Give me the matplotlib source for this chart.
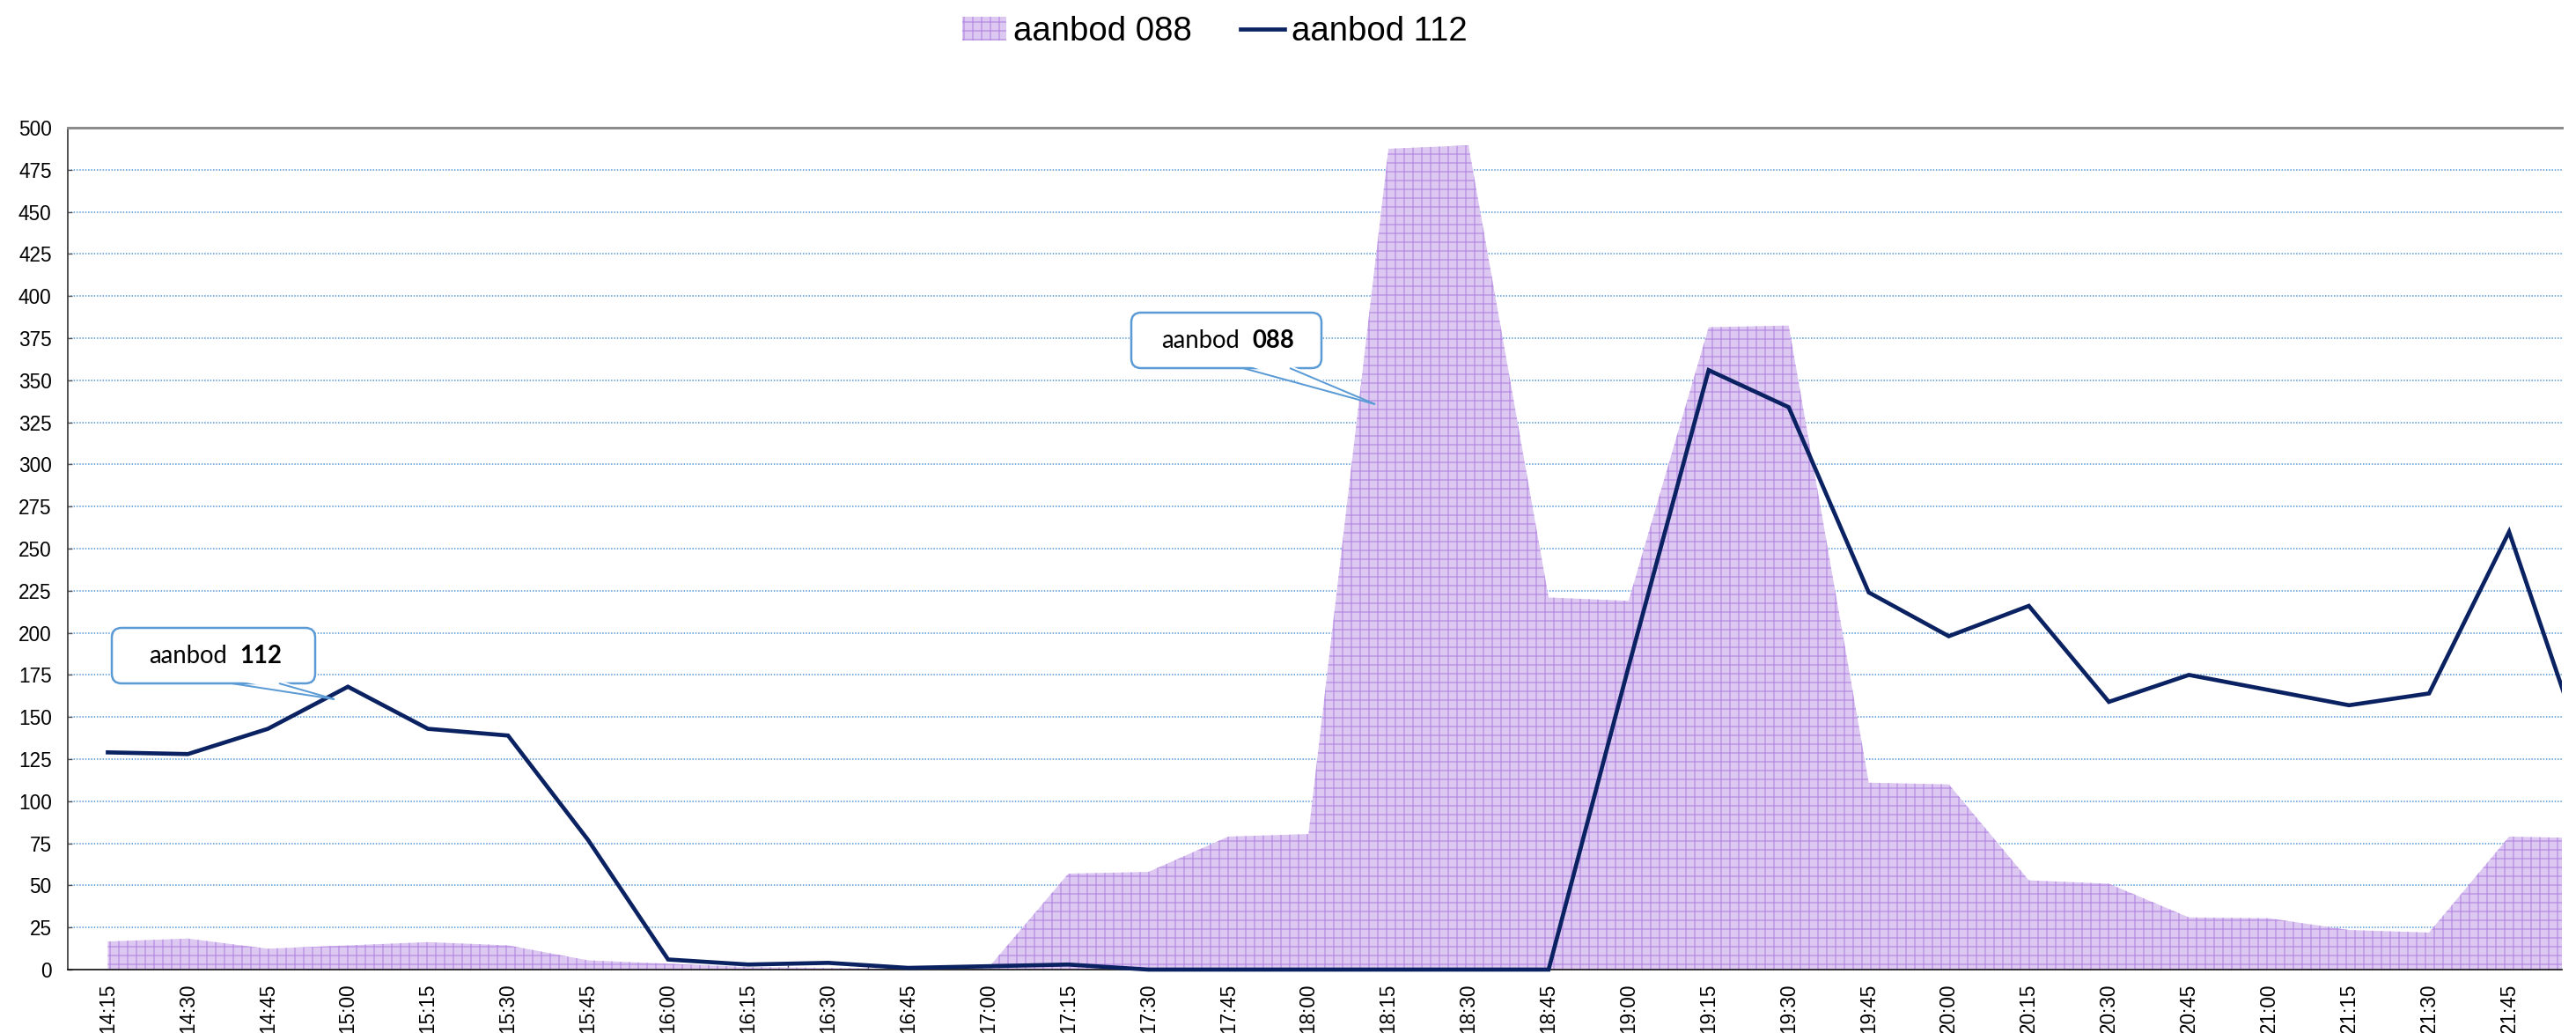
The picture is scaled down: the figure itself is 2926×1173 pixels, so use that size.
import numpy as np
import matplotlib
matplotlib.use("Agg")
import matplotlib.pyplot as plt
from matplotlib.patches import FancyBboxPatch, Polygon, Rectangle
from matplotlib.ticker import FixedLocator, MultipleLocator

plt.rcParams['font.family'] = ['Liberation Sans', 'DejaVu Sans']
plt.rcParams['hatch.linewidth'] = 0.8

# time slots (last one lies just outside the cropped plot area)
tijden = ['14:15', '14:30', '14:45', '15:00', '15:15', '15:30', '15:45', '16:00',
          '16:15', '16:30', '16:45', '17:00', '17:15', '17:30', '17:45', '18:00',
          '18:15', '18:30', '18:45', '19:00', '19:15', '19:30', '19:45', '20:00',
          '20:15', '20:30', '20:45', '21:00', '21:15', '21:30', '21:45', '22:00']

aanbod_088 = [16.7, 18.4, 12.4, 14.4, 16.3, 14.4, 5.5, 3.5,
              1.5, 1.0, 0.5, 1.0, 57, 58, 79, 80.5,
              487.5, 489.5, 221, 219, 381.5, 382.5, 111, 110,
              53, 51, 31, 30.5, 23.5, 22, 79, 78]

aanbod_112 = [129, 128, 143, 168, 143, 139, 77, 6,
              3, 4, 1, 2, 3, 0, 0, 0,
              0, 0, 0, 180, 356, 334, 224, 198,
              216, 159, 175, 166, 157, 164, 260, 120]

W, H, DPI = 2926, 1173, 120
fig = plt.figure(figsize=(W / DPI, H / DPI), dpi=DPI)
ax = fig.add_axes([77 / W, 72 / H, 2833 / W, 956 / H])

x = np.arange(len(tijden))

area = ax.fill_between(x, aanbod_088, 0, facecolor='#ddc8f1', edgecolor='#b890e4',
                       hatch='++', linewidth=0, zorder=2, label='aanbod 088')
line, = ax.plot(x, aanbod_112, color='#0b2262', lw=2.8, zorder=4,
                solid_joinstyle='miter', label='aanbod 112')
clip = Rectangle((0, -0.02), 1, 1.03, transform=ax.transAxes, visible=False)
ax.add_patch(clip)
line.set_clip_path(clip)

ax.set_xlim(-0.5, 30.66)
ax.set_ylim(0, 500)
ax.yaxis.set_major_locator(MultipleLocator(25))
ax.set_xticks(x[:31])
ax.set_xticklabels(tijden[:31], rotation=90, fontsize=13.5)
ax.xaxis.set_minor_locator(FixedLocator(np.arange(0.5, 31, 1)))
ax.tick_params(axis='x', which='major', length=0, pad=9.5)
ax.tick_params(axis='x', which='minor', direction='in', length=3, width=0.8, color='#444444')
ax.tick_params(axis='y', direction='in', length=3, width=0.8, color='#555555',
               labelsize=13.5, pad=11)

ax.grid(axis='y', color='#6ea6dc', linestyle=(0, (0.8, 1.0)), linewidth=1.1, zorder=1)
ax.set_axisbelow(True)

ax.spines['right'].set_visible(False)
ax.spines['top'].set_color('#8c8c8c')
ax.spines['top'].set_linewidth(1.8)
ax.spines['left'].set_color('#333333')
ax.spines['left'].set_linewidth(1.0)
ax.spines['bottom'].set_color('#111111')
ax.spines['bottom'].set_linewidth(1.0)

fig.legend(handles=[area, line], loc='center', bbox_to_anchor=(1380 / W, 1 - 36 / H),
           ncol=2, frameon=False, fontsize=23, handlelength=1.3, handletextpad=0.2,
           columnspacing=1.45)

# overlay in image pixels for the callouts
ov = fig.add_axes([0, 0, 1, 1], zorder=10)
ov.set_xlim(0, W)
ov.set_ylim(H, 0)
ov.axis('off')
ov.patch.set_alpha(0)

blauw = '#5b9bd5'


def callout(box, base, tip, txt_pos, nummer):
    x0, y0, x1, y1 = box
    ov.add_patch(FancyBboxPatch((x0, y0), x1 - x0, y1 - y0,
                                boxstyle='round,pad=0,rounding_size=11',
                                facecolor='white', edgecolor=blauw, lw=1.5))
    bx0, bx1 = base
    ov.add_patch(Polygon([(bx0 + 1, y1 - 4), tip, (bx1 - 1, y1 - 4)], closed=True,
                         facecolor='white', edgecolor='none'))
    ov.plot([bx0, tip[0]], [y1, tip[1]], color=blauw, lw=1.2, solid_capstyle='butt')
    ov.plot([bx1, tip[0]], [y1, tip[1]], color=blauw, lw=1.2, solid_capstyle='butt')
    tx, ty = txt_pos
    ov.text(tx, ty, 'aanbod', ha='right', va='center', fontsize=16.5,
            family=['Lato', 'DejaVu Sans'])
    ov.text(tx + 14, ty, nummer, ha='left', va='center', fontsize=16.5,
            family=['Lato', 'DejaVu Sans'], fontweight='bold')


callout((127, 713, 358, 776), (263, 317), (380, 794), (258, 745), '112')
callout((1285, 355, 1501, 418), (1412, 1465), (1562, 459), (1408, 387), '088')

fig.savefig('out.png', dpi=DPI)
